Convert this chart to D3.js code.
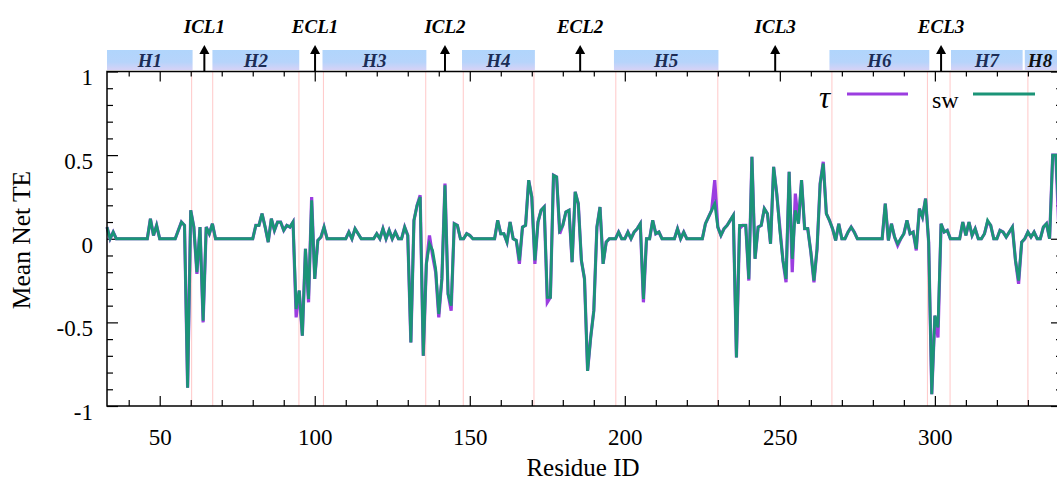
<!DOCTYPE html>
<html>
<head>
<meta charset="utf-8">
<script src="https://cdn.jsdelivr.net/npm/d3@7"></script>
<style>
  body { margin: 0; background: #fff; }
  svg { display: block; }
  text { font-family: "Liberation Serif", "Times New Roman", serif; }
</style>
</head>
<body>
<div id="chart"></div>
<script>
/* DATA */
const firstResidue = 33;
const lastResidue = 340;

// sw series, residues 33..340 (10 per row)
const swValues = [
  0.07, 0, 0.04, 0, 0, 0, 0, 0, 0, 0,
  0, 0, 0, 0, 0.12, 0.02, 0.08, 0, 0, 0,
  0, 0, 0, 0.05, 0.1, 0.08, -0.89, 0.17, 0.07, -0.2,
  0.07, -0.49, 0.07, 0.03, 0.09, 0, 0, 0, 0, 0,
  0, 0, 0, 0, 0, 0, 0, 0, 0.08, 0.08,
  0.15, 0.07, -0.02, 0.12, 0.05, 0.1, 0.1, 0.05, 0.08, 0.07,
  0.1, -0.42, -0.31, -0.58, -0.06, -0.36, 0.23, -0.24, -0.01, 0.01,
  0.07, 0, 0, 0, 0, 0, 0, 0, 0.04, 0,
  0.06, 0.03, 0, 0, 0, 0, 0, 0.03, 0, 0.06,
  0, 0.05, 0, 0.04, 0, 0, 0.07, 0.02, -0.62, 0.11,
  0.2, 0.25, -0.7, -0.15, -0.03, -0.07, -0.18, -0.45, -0.24, 0.32,
  -0.33, -0.4, 0.09, 0.08, 0, 0, 0.03, 0.02, 0, 0,
  0, 0, 0, 0, 0, 0, 0.11, 0.03, 0.03, -0.02,
  0.1, 0, -0.01, -0.13, 0.07, 0.08, 0.35, 0.25, -0.13, 0.1,
  0.17, 0.19, -0.35, -0.35, 0.38, 0.37, 0.05, 0.08, 0.16, 0.17,
  -0.14, 0.28, 0.21, -0.13, -0.24, -0.79, -0.59, -0.43, 0.07, 0.19,
  -0.15, -0.02, 0, 0, 0, 0.04, 0, 0, 0.04, 0,
  0.04, 0.06, 0.09, -0.36, 0, 0, 0.11, 0.03, 0.04, 0,
  0, 0, 0, 0, 0.06, 0, 0.04, 0, 0, 0,
  0, 0, 0, 0.09, 0.13, 0.17, 0.21, 0.07, 0.02, 0.06,
  0.08, 0.11, 0.14, -0.71, 0.08, 0.08, 0.08, -0.24, 0.49, -0.12,
  0.07, 0.08, 0.18, 0.15, -0.03, 0.43, 0.27, 0.05, -0.13, -0.24,
  0.4, -0.12, 0.17, 0.09, 0.35, 0.06, 0.06, -0.08, -0.25, -0.06,
  0.33, 0.45, 0.15, 0.11, 0.06, -0.01, 0.09, 0, 0, 0.04,
  0.07, 0.04, 0, 0, 0, 0, 0, 0, 0, 0,
  0, 0.21, -0.01, 0.09, 0.01, -0.03, 0, 0.03, 0.11, 0.03,
  0.04, -0.06, 0.18, 0.13, 0.24, -0.02, -0.93, -0.46, -0.53, 0.09,
  0.04, 0.05, 0, 0, 0, 0, 0.1, 0.02, 0.1, 0.02,
  0.06, 0, 0, 0.03, 0.11, 0.08, 0, 0, 0.05, 0.04,
  0.01, 0.04, 0.07, -0.13, -0.25, -0.02, 0, 0.04, 0.01, 0.04,
  0, 0, 0.07, 0.09, 0, 0.5, 0.5, 0.15
];

// tau series, residues 33..340
const tauValues = [
  0.07, 0, 0.04, 0, 0, 0, 0, 0, 0, 0,
  0, 0, 0, 0, 0.12, 0.02, 0.08, 0, 0, 0,
  0, 0, 0, 0.05, 0.1, 0.08, -0.89, 0.17, 0.07, -0.21,
  0.07, -0.5, 0.07, 0.03, 0.09, 0, 0, 0, 0, 0,
  0, 0, 0, 0, 0, 0, 0, 0, 0.08, 0.08,
  0.15, 0.07, -0.02, 0.12, 0.05, 0.1, 0.1, 0.05, 0.08, 0.07,
  0.1, -0.47, -0.31, -0.58, -0.06, -0.38, 0.25, -0.24, -0.01, 0.01,
  0.07, 0, 0, 0, 0, 0, 0, 0, 0.04, 0,
  0.06, 0.03, 0, 0, 0, 0, 0, 0.03, 0, 0.06,
  0, 0.05, 0, 0.04, 0, 0, 0.07, 0.02, -0.62, 0.11,
  0.2, 0.26, -0.7, -0.15, 0.02, -0.1, -0.2, -0.47, -0.24, 0.33,
  -0.33, -0.43, 0.09, 0.08, 0, 0, 0.03, 0.02, 0, 0,
  0, 0, 0, 0, 0, 0, 0.11, 0.03, 0.03, -0.02,
  0.1, 0, -0.01, -0.15, 0.07, 0.08, 0.35, 0.25, -0.15, 0.1,
  0.17, 0.19, -0.38, -0.35, 0.38, 0.37, 0.03, 0.08, 0.16, 0.17,
  -0.14, 0.28, 0.21, -0.13, -0.24, -0.79, -0.59, -0.43, 0.07, 0.19,
  -0.15, -0.02, 0, 0, 0, 0.04, 0, 0, 0.04, 0,
  0.04, 0.06, 0.09, -0.38, 0, 0, 0.11, 0.03, 0.04, 0,
  0, 0, 0, 0, 0.06, 0, 0.04, 0, 0, 0,
  0, 0, 0, 0.09, 0.13, 0.17, 0.35, 0.07, 0.02, 0.06,
  0.08, 0.11, 0.14, -0.71, 0.06, 0.08, 0.08, -0.25, 0.49, -0.12,
  0.07, 0.08, 0.18, 0.15, -0.03, 0.43, 0.27, 0.07, -0.13, -0.26,
  0.4, -0.2, 0.27, 0.09, 0.35, 0.06, 0.06, -0.08, -0.26, -0.06,
  0.33, 0.46, 0.15, 0.11, 0.06, -0.01, 0.09, 0, 0, 0.04,
  0.07, 0.04, 0, 0, 0, 0, 0, 0, 0, 0,
  0, 0.21, -0.01, 0.09, 0.01, -0.04, 0, 0.03, 0.11, 0.03,
  0.04, -0.07, 0.18, 0.13, 0.24, -0.02, -0.93, -0.46, -0.59, 0.09,
  0.04, 0.05, 0, 0, 0, 0, 0.1, 0.02, 0.1, 0.02,
  0.06, 0, 0, 0.03, 0.1, 0.08, 0, 0, 0.05, 0.04,
  0.01, 0.04, 0.07, -0.13, -0.27, -0.02, 0, 0.04, 0.01, 0.04,
  0, 0, 0.07, 0.09, 0, 0.5, 0.5, 0.05
];

// helices drawn as boxes above the plot
const helixNames = ["H1", "H2", "H3", "H4", "H5", "H6", "H7", "H8"];
const helixStart = [33, 67, 102.5, 147.5, 196.5, 266, 305.2, 329];
const helixEnd   = [60.6, 95, 136, 171, 230.2, 298.2, 328.3, 341];

// loops marked with arrows
const loopNames = ["ICL1", "ECL1", "ICL2", "ECL2", "ICL3", "ECL3"];
const loopResidue = [64.4, 100.1, 142, 185.6, 248.5, 302];

// helix boundaries (pink guide lines)
const boundaries = [60.3, 67.1, 94.9, 102.8, 135.8, 147.9, 170.7, 197.1, 230, 266.8, 297.6, 304.9, 330];

const xMajorTicks = [50, 100, 150, 200, 250, 300];
const xMinorTicks = [40, 60, 70, 80, 90, 110, 120, 130, 140, 160, 170, 180, 190, 210, 220, 230, 240, 260, 270, 280, 290, 310, 320, 330, 340];
const yMajorTicks = [-1, -0.5, 0, 0.5, 1];
const yMinorTicks = [-0.9, -0.8, -0.7, -0.6, -0.4, -0.3, -0.2, -0.1, 0.1, 0.2, 0.3, 0.4, 0.6, 0.7, 0.8, 0.9];

/* SETUP */
const width = 1057, height = 484;
const plot = { left: 107, right: 1062, top: 71.5, bottom: 406 };
const serif = "'Liberation Serif', 'Times New Roman', serif";
const tauColor = "#9b3de0";
const swColor = "#1b9477";

const residues = d3.range(firstResidue, lastResidue + 1);
const swData = residues.map((r, i) => ({ r, v: swValues[i] }));
const tauData = residues.map((r, i) => ({ r, v: tauValues[i] }));

const svg = d3.select("#chart").append("svg")
  .attr("width", width)
  .attr("height", height)
  .style("background", "#fff");

/* SCALES */
const xScale = d3.scaleLinear().domain([33, 341]).range([plot.left, plot.right]);
const yScale = d3.scaleLinear().domain([-1, 1]).range([plot.bottom, plot.top]);

// gradient for the helix boxes
const grad = svg.append("defs").append("linearGradient")
  .attr("id", "helixGrad").attr("x1", 0).attr("x2", 0).attr("y1", 0).attr("y2", 1);
grad.append("stop").attr("offset", "0%").attr("stop-color", "#b0d5fc");
grad.append("stop").attr("offset", "60%").attr("stop-color", "#b6d4fb");
grad.append("stop").attr("offset", "100%").attr("stop-color", "#d6d2f6");

/* PINK GUIDE LINES */
svg.append("g").selectAll("line")
  .data(boundaries)
  .join("line")
  .attr("x1", d => xScale(d)).attr("x2", d => xScale(d))
  .attr("y1", plot.top).attr("y2", plot.bottom)
  .attr("stroke", "#ffc8c8")
  .attr("stroke-width", 1);

/* AXES */
function styleAxis(g) {
  g.select(".domain").remove();
  g.selectAll(".tick line").attr("stroke", "#000").attr("stroke-width", 1.2);
  g.attr("font-family", serif).attr("font-size", 23);
  g.selectAll("text").attr("fill", "#000");
}
const plainNum = d => String(d);   // keep ASCII hyphen like the original

// bottom
svg.append("g").attr("transform", `translate(0,${plot.bottom})`)
  .call(d3.axisBottom(xScale).tickValues(xMinorTicks).tickSize(-6).tickFormat(""))
  .call(styleAxis);
svg.append("g").attr("transform", `translate(0,${plot.bottom})`)
  .call(d3.axisBottom(xScale).tickValues(xMajorTicks).tickSize(-10).tickPadding(23).tickFormat(plainNum))
  .call(styleAxis);
// top
svg.append("g").attr("transform", `translate(0,${plot.top})`)
  .call(d3.axisTop(xScale).tickValues(xMinorTicks).tickSize(-5).tickFormat(""))
  .call(styleAxis);
svg.append("g").attr("transform", `translate(0,${plot.top})`)
  .call(d3.axisTop(xScale).tickValues(xMajorTicks).tickSize(-10).tickFormat(""))
  .call(styleAxis);
// left
svg.append("g").attr("transform", `translate(${plot.left},0)`)
  .call(d3.axisLeft(yScale).tickValues(yMinorTicks).tickSize(-6).tickFormat(""))
  .call(styleAxis);
svg.append("g").attr("transform", `translate(${plot.left},0)`)
  .call(d3.axisLeft(yScale).tickValues(yMajorTicks).tickSize(-11).tickPadding(14).tickFormat(plainNum))
  .call(styleAxis)
  .call(g => g.selectAll("text").attr("dy", "0.58em"));
// right
svg.append("g").attr("transform", `translate(${plot.right},0)`)
  .call(d3.axisRight(yScale).tickValues(yMinorTicks).tickSize(-6).tickFormat(""))
  .call(styleAxis);
svg.append("g").attr("transform", `translate(${plot.right},0)`)
  .call(d3.axisRight(yScale).tickValues(yMajorTicks).tickSize(-11).tickFormat(""))
  .call(styleAxis);

/* LINES */
const line = d3.line().x(d => xScale(d.r)).y(d => yScale(d.v));

svg.append("path")
  .datum(tauData)
  .attr("d", line)
  .attr("fill", "none")
  .attr("stroke", tauColor)
  .attr("stroke-width", 3.2)
  .attr("stroke-linejoin", "miter");

svg.append("path")
  .datum(swData)
  .attr("d", line)
  .attr("fill", "none")
  .attr("stroke", swColor)
  .attr("stroke-width", 2.8)
  .attr("stroke-linejoin", "miter");

// frame
svg.append("rect")
  .attr("x", plot.left).attr("y", plot.top)
  .attr("width", plot.right - plot.left).attr("height", plot.bottom - plot.top)
  .attr("fill", "none").attr("stroke", "#000").attr("stroke-width", 1.5);

/* HELIX BOXES */
const helixG = svg.append("g");
helixG.selectAll("rect")
  .data(helixNames)
  .join("rect")
  .attr("x", (d, i) => xScale(helixStart[i]))
  .attr("y", 50)
  .attr("width", (d, i) => xScale(helixEnd[i]) - xScale(helixStart[i]))
  .attr("height", 20)
  .attr("fill", "url(#helixGrad)");
helixG.selectAll("text")
  .data(helixNames)
  .join("text")
  .attr("x", (d, i) => d === "H8" ? 1040 : (xScale(helixStart[i]) + xScale(helixEnd[i])) / 2)
  .attr("y", 67)
  .attr("text-anchor", "middle")
  .attr("font-size", 19)
  .attr("font-weight", "bold")
  .attr("font-style", "italic")
  .attr("fill", d => d === "H8" ? "#111" : "#1c2c55")
  .text(d => d);

/* LOOP ARROWS */
const loopG = svg.append("g");
loopG.selectAll("line")
  .data(loopResidue)
  .join("line")
  .attr("x1", d => xScale(d)).attr("x2", d => xScale(d))
  .attr("y1", plot.top).attr("y2", 52)
  .attr("stroke", "#000").attr("stroke-width", 2);
loopG.selectAll("path")
  .data(loopResidue)
  .join("path")
  .attr("d", d => `M${xScale(d)},45 L${xScale(d) - 5},54 L${xScale(d) + 5},54 Z`)
  .attr("fill", "#000");
loopG.selectAll("text")
  .data(loopNames)
  .join("text")
  .attr("x", (d, i) => xScale(loopResidue[i]))
  .attr("y", 33)
  .attr("text-anchor", "middle")
  .attr("font-size", 19)
  .attr("font-weight", "bold")
  .attr("font-style", "italic")
  .text(d => d);

/* LEGEND */
svg.append("text")
  .attr("x", 819).attr("y", 108)
  .attr("font-size", 31)
  .attr("font-style", "italic")
  .text("τ");
svg.append("line")
  .attr("x1", 847).attr("x2", 908).attr("y1", 94).attr("y2", 94)
  .attr("stroke", tauColor).attr("stroke-width", 3);
svg.append("text")
  .attr("x", 932).attr("y", 108)
  .attr("font-size", 24)
  .text("sw");
svg.append("line")
  .attr("x1", 973).attr("x2", 1035).attr("y1", 94).attr("y2", 94)
  .attr("stroke", swColor).attr("stroke-width", 3);

/* AXIS TITLES */
svg.append("text")
  .attr("transform", "translate(30,240) rotate(-90)")
  .attr("text-anchor", "middle")
  .attr("font-size", 25.5)
  .text("Mean Net TE");
svg.append("text")
  .attr("x", 583).attr("y", 476)
  .attr("text-anchor", "middle")
  .attr("font-size", 25)
  .text("Residue ID");
</script>
</body>
</html>
